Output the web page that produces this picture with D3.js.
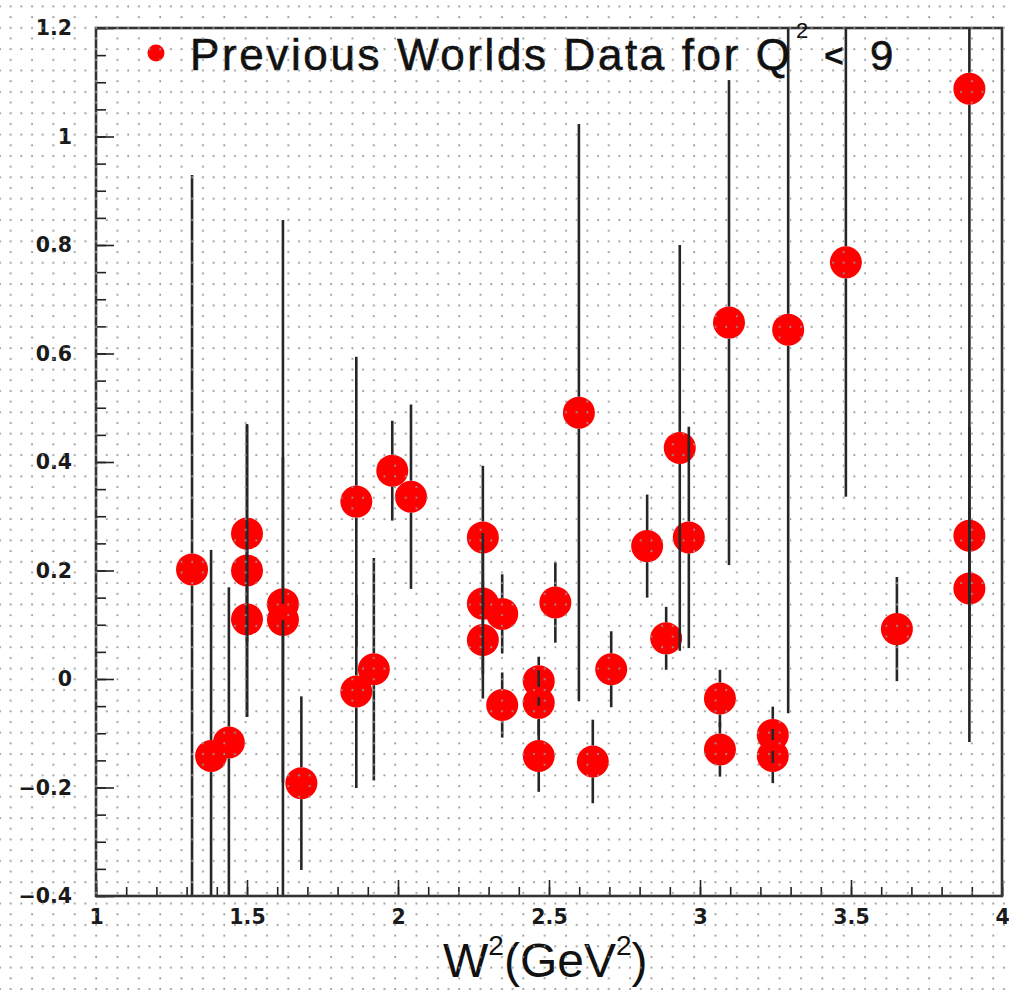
<!DOCTYPE html>
<html>
<head>
<meta charset="utf-8">
<script src="https://cdn.jsdelivr.net/npm/d3@7"></script>
<style>
  html, body { margin: 0; padding: 0; background: #fff; }
  svg { display: block; }
</style>
</head>
<body>
<div id="chart"></div>
<script>
// ---- data ----
const W2 = [1.318, 1.381, 1.44, 1.50, 1.50, 1.50, 1.619, 1.619, 1.68, 1.862, 1.862, 1.920, 1.981, 2.043,
            2.281, 2.281, 2.281, 2.345, 2.345, 2.466, 2.466, 2.466, 2.521, 2.599, 2.645, 2.706, 2.825, 2.888,
            2.933, 2.963, 3.066, 3.066, 3.096, 3.241, 3.241, 3.292, 3.483, 3.652, 3.892, 3.892, 3.892];
const values = [0.202, -0.142, -0.117, 0.268, 0.200, 0.110, 0.138, 0.109, -0.192, 0.327, -0.023, 0.018, 0.384, 0.336,
            0.261, 0.139, 0.072, 0.120, -0.048, -0.004, -0.044, -0.142, 0.141, 0.491, -0.152, 0.018, 0.245, 0.075,
            0.426, 0.261, -0.036, -0.130, 0.657, -0.103, -0.142, 0.644, 0.768, 0.092, 1.088, 0.264, 0.167];
const errors = [0.727, 0.38, 0.286, 0.20, 0.27, 0.18, 0.708, 0.30, 0.16, 0.267, 0.178, 0.205, 0.092, 0.17,
            0.132, 0.13, 0.108, 0.073, 0.06, 0.045, 0.06, 0.066, 0.074, 0.532, 0.077, 0.07, 0.095, 0.058,
            0.374, 0.204, 0.053, 0.05, 0.447, 0.052, 0.05, 0.707, 0.432, 0.096, 1.204, 0.20, 0.15];

const xMajor = [1, 1.5, 2, 2.5, 3, 3.5, 4];
const xMajorLabels = ["1", "1.5", "2", "2.5", "3", "3.5", "4"];
const yMajor = [-0.4, -0.2, 0, 0.2, 0.4, 0.6, 0.8, 1.0, 1.2];
const yMajorLabels = ["\u22120.4", "\u22120.2", "0", "0.2", "0.4", "0.6", "0.8", "1", "1.2"];
const legendLabel = "Previous Worlds Data for Q";
const legendSup = "2";
const legendTail = ["<", "9"];

// ---- layout ----
const width = 1009, height = 990;
const svg = d3.select("#chart").append("svg").attr("width", width).attr("height", height);

const x = d3.scaleLinear().domain([1, 4]).range([96, 1002]);
const y = d3.scaleLinear().domain([-0.4, 1.2]).range([896, 28]);

const defs = svg.append("defs");
defs.append("clipPath").attr("id", "plotclip").append("rect")
  .attr("x", x(1)).attr("y", y(1.2)).attr("width", x(4) - x(1)).attr("height", y(-0.4) - y(1.2));

const pitch = 10.68;
const pat = defs.append("pattern").attr("id", "dots").attr("patternUnits", "userSpaceOnUse")
  .attr("x", -5).attr("y", 1.48).attr("width", 2 * pitch).attr("height", 2 * pitch);
[[5, 5], [5 + pitch, 5], [5 + pitch, 5 + pitch]].forEach(([cx, cy]) => {
  pat.append("circle").attr("cx", cx).attr("cy", cy).attr("r", 1).attr("fill", "#959595");
});

svg.append("rect").attr("width", width).attr("height", height).attr("fill", "#fff");

// ---- axes (ticks inward) ----
const tickColor = "#222";
const gx = svg.append("g").attr("transform", `translate(0,${y(-0.4)})`);
gx.call(d3.axisBottom(x).tickValues(d3.range(1, 4.0001, 0.1)).tickSizeInner(-9).tickSizeOuter(0).tickFormat(""));
gx.call(g => g.selectAll(".domain").remove());
const gx2 = svg.append("g").attr("transform", `translate(0,${y(-0.4)})`);
gx2.call(d3.axisBottom(x).tickValues(xMajor).tickSizeInner(-16).tickSizeOuter(0).tickPadding(13)
  .tickFormat((d, i) => xMajorLabels[i]));
gx2.select(".domain").remove();

const gy = svg.append("g").attr("transform", `translate(${x(1)},0)`);
gy.call(d3.axisLeft(y).tickValues(d3.range(-0.4, 1.2001, 0.05)).tickSizeInner(-10).tickSizeOuter(0).tickFormat(""));
gy.select(".domain").remove();
const gy2 = svg.append("g").attr("transform", `translate(${x(1)},0)`);
gy2.call(d3.axisLeft(y).tickValues(yMajor).tickSizeInner(-18).tickSizeOuter(0).tickPadding(24)
  .tickFormat((d, i) => yMajorLabels[i]));
gy2.select(".domain").remove();

svg.selectAll(".tick line").attr("stroke", tickColor).attr("stroke-width", 1.6);
svg.selectAll(".tick text").attr("font-family", "'DejaVu Sans', sans-serif").attr("font-weight", "bold")
  .attr("font-size", 20.5).attr("fill", "#1a1a1a");

// ---- data marks ----
const data = W2.map((w, i) => ({ w, v: values[i], e: errors[i] }));
const r = 16;
const plot = svg.append("g").attr("clip-path", "url(#plotclip)");

plot.selectAll("circle.pt").data(data).join("circle").attr("class", "pt")
  .attr("cx", d => x(d.w)).attr("cy", d => y(d.v)).attr("r", r).attr("fill", "#ff0000");

// error bars drawn ROOT-style with a gap at the own marker
const bars = plot.append("g").attr("stroke", "#262626").attr("stroke-width", 2.6);
data.forEach(d => {
  const cx = x(d.w), cy = y(d.v);
  const top = y(d.v + d.e), bot = y(d.v - d.e);
  if (top < cy - r) bars.append("line").attr("x1", cx).attr("x2", cx).attr("y1", top).attr("y2", cy - r);
  if (bot > cy + r) bars.append("line").attr("x1", cx).attr("x2", cx).attr("y1", cy + r).attr("y2", bot);
});

// ---- frame ----
svg.append("rect").attr("x", x(1)).attr("y", y(1.2)).attr("width", x(4) - x(1)).attr("height", y(-0.4) - y(1.2))
  .attr("fill", "none").attr("stroke", "#333").attr("stroke-width", 2.6);

// ---- legend ----
const font = "'Liberation Sans', Arial, sans-serif";
const leg = svg.append("g");
leg.append("circle").attr("cx", 156).attr("cy", 53).attr("r", 8.5).attr("fill", "#ff0000");
leg.append("text").attr("x", 190).attr("y", 70).attr("font-family", font)
  .attr("font-size", 44).attr("fill", "#111").attr("stroke", "#111").attr("stroke-width", 0.6)
  .attr("textLength", 600).attr("lengthAdjust", "spacing")
  .text(legendLabel);
leg.append("text").attr("x", 796).attr("y", 38).attr("font-family", font)
  .attr("font-size", 22).attr("fill", "#111").text(legendSup);
leg.append("text").attr("x", 824).attr("y", 67).attr("font-family", font).attr("font-weight", "bold")
  .attr("font-size", 34).attr("fill", "#111").text(legendTail[0]);
leg.append("text").attr("x", 870).attr("y", 70).attr("font-family", font)
  .attr("font-size", 42).attr("fill", "#111").attr("stroke", "#111").attr("stroke-width", 0.6).text(legendTail[1]);

// ---- x axis title ----
const xt = svg.append("text").attr("x", 443).attr("y", 977)
  .attr("font-family", font).attr("font-size", 48).attr("fill", "#111");
xt.append("tspan").text("W");
xt.append("tspan").attr("font-size", 28).attr("dy", -22).text("2");
xt.append("tspan").attr("dy", 22).text("(GeV");
xt.append("tspan").attr("font-size", 28).attr("dy", -22).text("2");
xt.append("tspan").attr("dy", 22).text(")");

// ---- halftone dot screen over everything ----
svg.append("rect").attr("width", width).attr("height", height).attr("fill", "url(#dots)")
  .attr("pointer-events", "none");
</script>
</body>
</html>
